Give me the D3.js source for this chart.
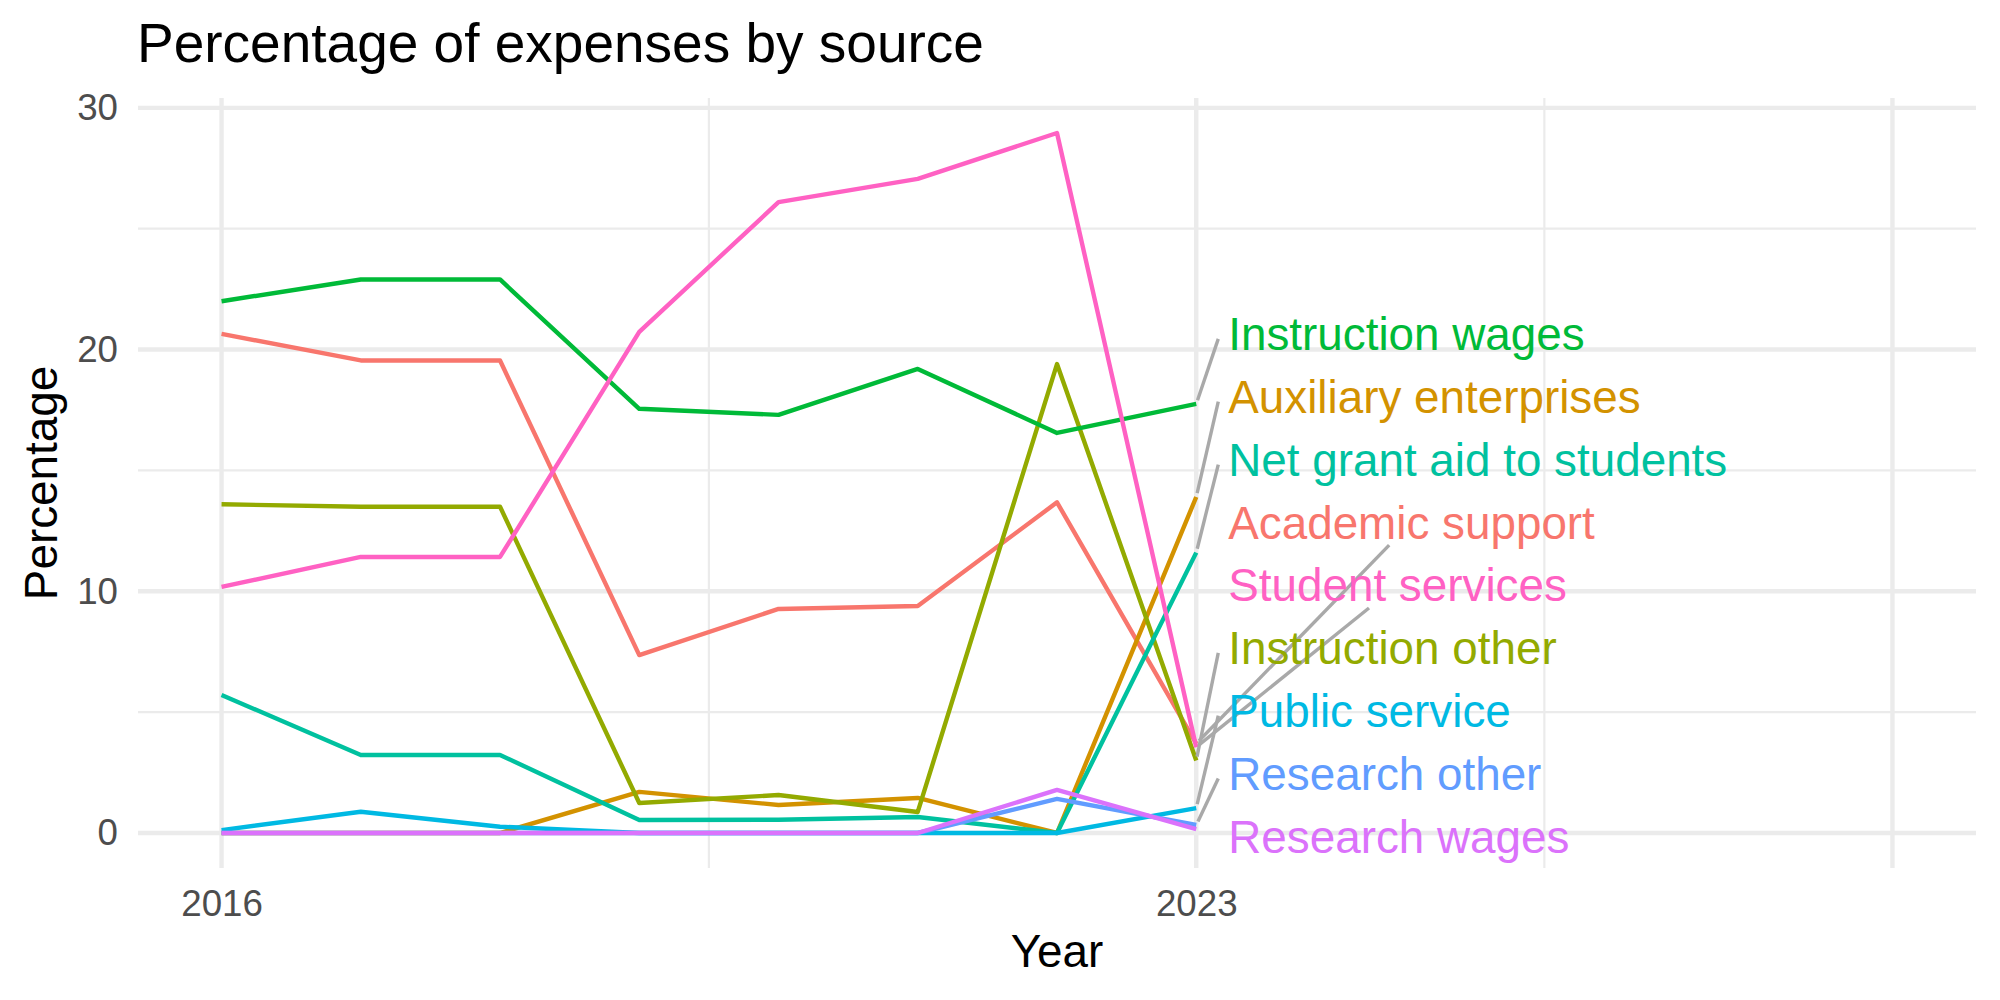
<!DOCTYPE html>
<html>
<head>
<meta charset="utf-8">
<script src="https://cdn.jsdelivr.net/npm/d3@7"></script>
<style>
  body { margin: 0; background: #fff; }
  text { font-family: "Liberation Sans", Arial, Helvetica, sans-serif; }
</style>
</head>
<body>
<svg id="chart"></svg>
<script>
// Percentage of expenses by source, 2016-2023, with repelled end labels

// Data
const years = [2016, 2017, 2018, 2019, 2020, 2021, 2022, 2023];

const academicSupport      = [20.65, 19.55, 19.55, 7.36, 9.27, 9.39, 13.68, 3.7];
const auxiliaryEnterprises = [0, 0, 0, 1.7, 1.16, 1.45, 0, 13.9];
const instructionOther     = [13.6, 13.5, 13.5, 1.24, 1.57, 0.87, 19.4, 3.0];
const instructionWages     = [22.0, 22.9, 22.9, 17.55, 17.3, 19.2, 16.55, 17.75];
const netGrantAid          = [5.71, 3.23, 3.23, 0.54, 0.55, 0.66, 0, 11.6];
const publicService        = [0.12, 0.88, 0.26, 0, 0, 0, 0, 1.03];
const researchOther        = [0, 0, 0, 0, 0, 0, 1.41, 0.33];
const researchWages        = [0, 0, 0, 0, 0, 0, 1.78, 0.16];
const studentServices      = [10.18, 11.42, 11.42, 20.73, 26.1, 27.06, 28.96, 3.55];

// alphabetical, as ggplot orders the groups
const sources = [
  "Academic support", "Auxiliary enterprises", "Instruction other",
  "Instruction wages", "Net grant aid to students", "Public service",
  "Research other", "Research wages", "Student services"
];
const seriesValues = [
  academicSupport, auxiliaryEnterprises, instructionOther,
  instructionWages, netGrantAid, publicService,
  researchOther, researchWages, studentServices
];

// where the repelled labels ended up (percentage units), same order as sources
const labelY = [12.86, 18.05, 7.66, 20.65, 15.45, 5.06, 2.46, -0.14, 10.26];
const labelNudge = 0.23;
const connectToCentre = ["Academic support", "Student services"];

const xLimits = [2016, 2028];
const xMajor = [2016, 2023, 2028];
const xMajorLabels = ["2016", "2023", ""];
const yMajor = [0, 10, 20, 30];

// Config
const width = 2000;
const height = 1000;
const margin = { top: 98, right: 24, bottom: 132, left: 138 };

const svg = d3.select("#chart")
  .attr("width", width)
  .attr("height", height);

svg.append("rect").attr("width", width).attr("height", height).attr("fill", "#fff");

const palette = ["#F8766D", "#D39200", "#93AA00", "#00BA38", "#00C19F",
                 "#00B9E3", "#619CFF", "#DB72FB", "#FF61C3"];
const color = d3.scaleOrdinal().domain(sources).range(palette);

// ggplot-like 5% expansion
function expand([a, b]) {
  const d = (b - a) * 0.05;
  return [a - d, b + d];
}

const yMax = d3.max(seriesValues, s => d3.max(s));
const yMin = d3.min(seriesValues, s => d3.min(s));

const x = d3.scaleLinear()
  .domain(expand(xLimits))
  .range([margin.left, width - margin.right]);

const y = d3.scaleLinear()
  .domain(expand([yMin, yMax]))
  .range([height - margin.bottom, margin.top]);

// minor breaks at midpoints between majors
const xMinor = d3.pairs(xMajor).map(([a, b]) => (a + b) / 2);
const yMinor = d3.pairs(yMajor).map(([a, b]) => (a + b) / 2);

const grid = svg.append("g").attr("stroke", "#EBEBEB");

grid.selectAll(".hminor").data(yMinor).join("line")
  .attr("x1", x.range()[0]).attr("x2", x.range()[1])
  .attr("y1", d => y(d)).attr("y2", d => y(d))
  .attr("stroke-width", 2.2);
grid.selectAll(".vminor").data(xMinor).join("line")
  .attr("y1", y.range()[0]).attr("y2", y.range()[1])
  .attr("x1", d => x(d)).attr("x2", d => x(d))
  .attr("stroke-width", 2.2);
grid.selectAll(".hmajor").data(yMajor).join("line")
  .attr("x1", x.range()[0]).attr("x2", x.range()[1])
  .attr("y1", d => y(d)).attr("y2", d => y(d))
  .attr("stroke-width", 4.4);
grid.selectAll(".vmajor").data(xMajor).join("line")
  .attr("y1", y.range()[0]).attr("y2", y.range()[1])
  .attr("x1", d => x(d)).attr("x2", d => x(d))
  .attr("stroke-width", 4.4);

// Axes
const yAxis = d3.axisLeft(y).tickValues(yMajor).tickSize(0).tickPadding(20);
const xAxis = d3.axisBottom(x).tickValues(xMajor).tickSize(0).tickPadding(22)
  .tickFormat((d, i) => xMajorLabels[i]);

const gy = svg.append("g")
  .attr("transform", `translate(${margin.left},0)`)
  .call(yAxis);
const gx = svg.append("g")
  .attr("transform", `translate(0,${height - margin.bottom})`)
  .call(xAxis);

[gx, gy].forEach(g => {
  g.select(".domain").remove();
  g.selectAll("text")
    .attr("font-size", 36.7)
    .attr("fill", "#4D4D4D")
    .attr("font-family", null);
});

// Lines
const table = sources.map((name, i) => ({
  name,
  values: years.map((yr, j) => ({ year: yr, value: seriesValues[i][j] })),
  labelY: labelY[i]
}));

const line = d3.line().x(d => x(d.year)).y(d => y(d.value));

svg.append("g").selectAll("path").data(table).join("path")
  .attr("fill", "none")
  .attr("stroke", d => color(d.name))
  .attr("stroke-width", 4.4)
  .attr("stroke-linejoin", "round")
  .attr("d", d => line(d.values));

// Labels + segments
const lastYear = years[years.length - 1];
const segG = svg.append("g");
const labG = svg.append("g");

table.forEach(d => {
  const mid = y(d.labelY);
  const t = labG.append("text")
    .attr("x", x(lastYear + labelNudge))
    .attr("y", mid)
    .attr("dy", "0.36em")
    .attr("font-size", 45.8)
    .attr("fill", color(d.name))
    .text(d.name);

  const w = t.node().getComputedTextLength();
  const left = x(lastYear + labelNudge) - 10;
  const box = { left, right: left + w + 20, top: mid - 23, bottom: mid + 23 };

  const last = d.values[d.values.length - 1];
  const px = x(last.year), py = y(last.value);

  let ex, ey;
  if (connectToCentre.includes(d.name)) {
    const cx = (box.left + box.right) / 2;
    const cy = mid;
    // clip the line towards the centre at the box edge
    const tB = (py - box.bottom) / (py - cy);
    const tL = (box.left - px) / (cx - px);
    const tt = Math.max(tB, tL);
    ex = px + (cx - px) * tt;
    ey = py + (cy - py) * tt;
  } else {
    ex = box.left;
    ey = mid + 5;
  }

  // short segments are skipped, like ggrepel's min.segment.length
  const len = Math.hypot(ex - px, ey - py);
  if (len < 32) return;
  const pad = 4;
  segG.append("line")
    .attr("x1", px + (ex - px) / len * pad)
    .attr("y1", py + (ey - py) / len * pad)
    .attr("x2", ex).attr("y2", ey)
    .attr("stroke", "#A9A9A9")
    .attr("stroke-width", 3.4);
});

// Titles
svg.append("text")
  .attr("x", margin.left - 1)
  .attr("y", 62)
  .attr("font-size", 55)
  .attr("fill", "#000")
  .text("Percentage of expenses by source");

svg.append("text")
  .attr("x", (x.range()[0] + x.range()[1]) / 2)
  .attr("y", 967)
  .attr("text-anchor", "middle")
  .attr("font-size", 45.8)
  .attr("fill", "#000")
  .text("Year");

svg.append("text")
  .attr("transform", `translate(57,${(y.range()[0] + y.range()[1]) / 2}) rotate(-90)`)
  .attr("text-anchor", "middle")
  .attr("font-size", 45.8)
  .attr("fill", "#000")
  .text("Percentage");
</script>
</body>
</html>
